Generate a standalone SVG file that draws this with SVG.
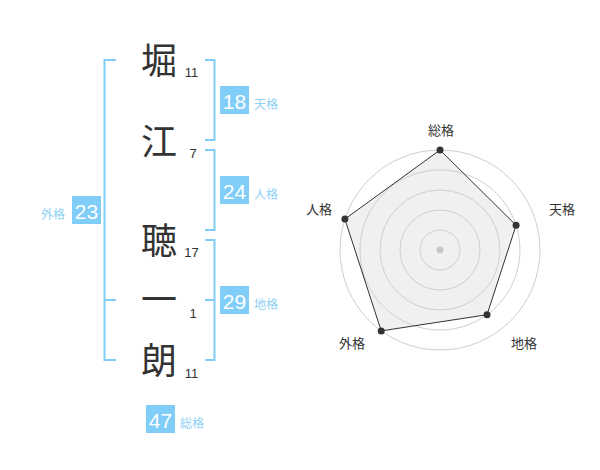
<svg xmlns="http://www.w3.org/2000/svg" width="600" height="470" viewBox="0 0 600 470">
<defs>
<style>
.kanji{font-family:"Noto Sans CJK JP","Noto Sans CJK SC",sans-serif;font-size:36px;fill:#333;text-anchor:middle}
.num{font-family:"Liberation Sans",Arial,sans-serif;font-size:13px;fill:#333;text-anchor:middle}
.box{fill:#80cdf8}
.boxnum{font-family:"Liberation Sans",Arial,sans-serif;font-size:21px;fill:#fff;text-anchor:middle}
.lab{font-family:"Noto Sans CJK JP","Noto Sans CJK SC",sans-serif;font-size:12px;fill:#8fd0f5}
.br{fill:none;stroke:#80cdf8;stroke-width:2}
.ring{fill:none;stroke:#cfcfcf;stroke-width:1}
.rlab{font-family:"Noto Sans CJK JP","Noto Sans CJK SC",sans-serif;font-size:13px;fill:#333;text-anchor:middle}
.pt{fill:#333}
</style>
</defs>
<rect width="600" height="470" fill="#fff"/>
<g id="connectors">
<path class="br" d="M116,60 H104.5 V360 H116"/>
<path class="br" d="M104.5,300 H116"/>
<path class="br" d="M205,60 H214.5 V140 H205"/>
<path class="br" d="M205,150 H214.5 V230 H205"/>
<path class="br" d="M205,240 H214.5 V360 H205"/>
<path class="br" d="M205,300 H214.5"/>
</g>
<g id="char1"><text class="kanji" x="159" y="74">堀</text><text class="num" x="191.5" y="77">11</text></g>
<g id="char2"><text class="kanji" x="159" y="155">江</text><text class="num" x="193" y="158">7</text></g>
<g id="char3"><text class="kanji" x="159" y="254">聴</text><text class="num" x="191.5" y="257">17</text></g>
<g id="char4"><text class="kanji" x="159" y="313">一</text><text class="num" x="193" y="318">1</text></g>
<g id="char5"><text class="kanji" x="159" y="374">朗</text><text class="num" x="191.5" y="378">11</text></g>
<g id="tenkaku"><rect class="box" x="220" y="86" width="29" height="28"/><text class="boxnum" x="234.5" y="108.5">18</text><text class="lab" x="254" y="109">天格</text></g>
<g id="jinkaku"><rect class="box" x="220" y="176" width="29" height="28"/><text class="boxnum" x="234.5" y="198.5">24</text><text class="lab" x="254" y="199">人格</text></g>
<g id="chikaku"><rect class="box" x="220" y="286" width="29" height="28"/><text class="boxnum" x="234.5" y="308.5">29</text><text class="lab" x="254" y="309">地格</text></g>
<g id="gaikaku"><rect class="box" x="72" y="196" width="29" height="28"/><text class="boxnum" x="86.5" y="218.5">23</text><text class="lab" x="65" y="219" text-anchor="end">外格</text></g>
<g id="soukaku"><rect class="box" x="146" y="405" width="29" height="28"/><text class="boxnum" x="160.5" y="427.5">47</text><text class="lab" x="180" y="428">総格</text></g>
<g id="radar">
<polygon points="440,150 516.08,225.28 487.02,314.72 381.22,330.9 344.89,219.1" fill="#f0f0f0" stroke="none"/>
<circle class="ring" cx="440" cy="250" r="20"/>
<circle class="ring" cx="440" cy="250" r="40"/>
<circle class="ring" cx="440" cy="250" r="60"/>
<circle class="ring" cx="440" cy="250" r="80"/>
<circle class="ring" cx="440" cy="250" r="100"/>
<polygon points="440,150 516.08,225.28 487.02,314.72 381.22,330.9 344.89,219.1" fill="none" stroke="#333" stroke-width="1"/>
<circle cx="440" cy="250" r="3.5" fill="#c8c8c8"/>
<circle class="pt" cx="440" cy="150" r="3.5"/>
<circle class="pt" cx="516.08" cy="225.28" r="3.5"/>
<circle class="pt" cx="487.02" cy="314.72" r="3.5"/>
<circle class="pt" cx="381.22" cy="330.9" r="3.5"/>
<circle class="pt" cx="344.89" cy="219.1" r="3.5"/>
<text class="rlab" x="441" y="134.5">総格</text>
<text class="rlab" x="562" y="213.5">天格</text>
<text class="rlab" x="524" y="347.5">地格</text>
<text class="rlab" x="352" y="347.5">外格</text>
<text class="rlab" x="319" y="213.5">人格</text>
</g>
</svg>
